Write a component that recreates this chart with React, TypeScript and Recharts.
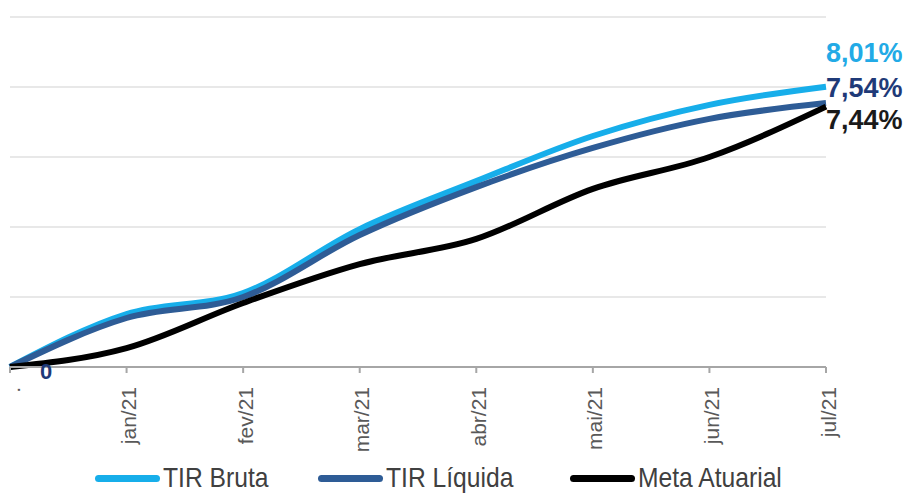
import React from "react";
import { LineChart, Line, XAxis, YAxis, CartesianGrid, Legend, LabelList } from "recharts";

const categories = [".", "jan/21", "fev/21", "mar/21", "abr/21", "mai/21", "jun/21", "jul/21"];
const tirBruta = [0, 1.51, 2.11, 3.94, 5.31, 6.6, 7.49, 8.01];
const tirLiquida = [0, 1.4, 2.0, 3.77, 5.14, 6.26, 7.09, 7.54];
const metaAtuarial = [0, 0.54, 1.83, 2.94, 3.66, 5.09, 6.0, 7.44];
const endLabels = ["8,01%", "7,54%", "7,44%"];
const startLabel = "0";
const yTicks = [0, 2, 4, 6, 8, 10];

const data = categories.map((c, i) => ({
  cat: c,
  bruta: tirBruta[i],
  liquida: tirLiquida[i],
  meta: metaAtuarial[i],
}));

const series = [
  { key: "bruta", name: "TIR Bruta", color: "#17AEEA", labelColor: "#22AAE6", dy: -34 },
  { key: "liquida", name: "TIR Líquida", color: "#2E5C96", labelColor: "#1F3A78", dy: -15 },
  { key: "meta", name: "Meta Atuarial", color: "#000000", labelColor: "#1a1a1a", dy: 13 },
];

const LABEL_FONT = "'Liberation Sans', Arial, sans-serif";

const Tick = (props: any) => {
  const { x, y, payload } = props;
  return (
    <text
      transform={`translate(${x + 2},${y + 12}) rotate(-90)`}
      textAnchor="end"
      dominantBaseline="central"
      fill="#595959"
      fontSize={21}
      fontFamily={LABEL_FONT}
    >
      {payload.value}
    </text>
  );
};

const makeEndLabel = (idx: number) => (props: any) => {
  const { x, y, index } = props;
  const s = series[idx];
  if (index === categories.length - 1) {
    return (
      <text
        x={x}
        y={y + s.dy}
        textAnchor="start"
        dominantBaseline="central"
        fill={s.labelColor}
        fontSize={27}
        fontWeight="bold"
        fontFamily={LABEL_FONT}
      >
        {endLabels[idx]}
      </text>
    );
  }
  if (idx === 1 && index === 0) {
    return (
      <text
        x={x + 36}
        y={y + 4}
        textAnchor="middle"
        dominantBaseline="central"
        fill="#1F3A78"
        fontSize={22}
        fontWeight="bold"
        fontFamily={LABEL_FONT}
      >
        {startLabel}
      </text>
    );
  }
  return null;
};

const legendLefts = [85, 308, 560];

const LegendContent = () => (
  <div style={{ position: "relative", width: 800, height: 40 }}>
    {series.map((s, i) => (
      <div
        key={s.key}
        style={{
          position: "absolute",
          left: legendLefts[i],
          top: 4,
          height: 40,
          display: "flex",
          alignItems: "center",
        }}
      >
        <div style={{ width: 65, height: 7, borderRadius: 4, background: s.color, marginRight: 3 }} />
        <span
          style={{
            fontFamily: LABEL_FONT,
            fontSize: 28,
            color: "#404040",
            whiteSpace: "nowrap",
            display: "inline-block",
            transform: "scaleX(0.88)",
            transformOrigin: "left center",
          }}
        >
          {s.name}
        </span>
      </div>
    ))}
  </div>
);

export default function App() {
  return (
    <div style={{ position: "absolute", left: 0, top: 0, width: 908, height: 494, background: "#fff" }}>
      <LineChart width={908} height={494} data={data} margin={{ top: 17, right: 82, left: 10, bottom: 0 }}>
        <CartesianGrid horizontal vertical={false} stroke="#e8e8e8" strokeWidth={2} />
        <YAxis hide domain={[0, 10]} ticks={yTicks} />
        <XAxis
          dataKey="cat"
          interval={0}
          height={87}
          tick={<Tick />}
          axisLine={{ stroke: "#a6a6a6", strokeWidth: 2 }}
          tickLine={{ stroke: "#a6a6a6", strokeWidth: 2 }}
          tickSize={6}
        />
        <Legend verticalAlign="bottom" content={<LegendContent />} wrapperStyle={{ height: 40 }} />
        {series.map((s, i) => (
          <Line
            key={s.key}
            type="monotone"
            dataKey={s.key}
            name={s.name}
            stroke={s.color}
            strokeWidth={6}
            dot={false}
            activeDot={false}
            isAnimationActive={false}
          >
            <LabelList dataKey={s.key} content={makeEndLabel(i)} />
          </Line>
        ))}
      </LineChart>
    </div>
  );
}
